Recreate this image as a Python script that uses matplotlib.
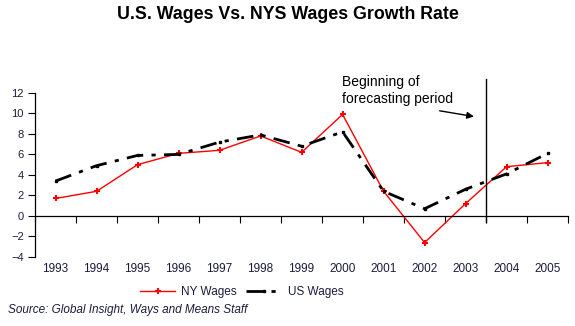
import numpy as np
import matplotlib.pyplot as plt

years = ["1993", "1994", "1995", "1996", "1997", "1998", "1999",
         "2000", "2001", "2002", "2003", "2004", "2005"]
ny_wages = [1.7, 2.4, 5.0, 6.1, 6.4, 7.8, 6.2, 9.9, 2.4, -2.6, 1.2, 4.8, 5.2]
us_wages = [3.4, 4.9, 5.9, 6.0, 7.2, 7.9, 6.8, 8.2, 2.4, 0.7, 2.6, 4.1, 6.1]
forecast_start = 10.5  # boundary between 2003 and 2004

plt.rcParams['font.family'] = ['Liberation Sans', 'DejaVu Sans']
txt_col = '#1c1c3c'

fig = plt.figure(figsize=(5.75, 3.26), dpi=100)
ax = fig.add_axes([0.061, 0.212, 0.927, 0.503])
x = np.arange(len(years))

ax.plot(x, ny_wages, color='#ff0000', lw=1.0, marker='+', ms=4, mew=1.5,
        label='NY Wages')
ax.plot(x, us_wages, color='black', lw=2.0, dashes=(6, 3, 1.5, 3),
        marker='s', ms=2, label='US Wages')

ax.set_xlim(-0.5, len(years) - 0.5)
ax.set_ylim(-4, 12)
ax.set_yticks(range(-4, 13, 2))

for s in ['top', 'right']:
    ax.spines[s].set_visible(False)
ax.spines['bottom'].set_position(('data', 0))
ax.spines['left'].set_linewidth(0.9)
ax.spines['bottom'].set_linewidth(0.9)

# boundary ticks on the zero line, year labels below the plot
ax.set_xticks(np.arange(-0.5, len(years), 1.0))
ax.tick_params(axis='x', direction='out', length=5, labelbottom=False)
ax.tick_params(axis='y', direction='out', length=5, labelsize=8,
               labelcolor=txt_col, pad=3)

sec = ax.secondary_xaxis(-0.02)
sec.set_xticks(x)
sec.set_xticklabels(years)
sec.tick_params(length=0, labelsize=8.5, labelcolor=txt_col, pad=2)
sec.spines['bottom'].set_visible(False)

ax.plot([forecast_start, forecast_start], [-0.6, 13.4], color='black',
        lw=1.0, clip_on=False)
ax.text(6.98, 13.7, "Beginning of\nforecasting period", fontsize=10,
        va='top', ha='left', linespacing=1.2, color='black')
ax.annotate("", xy=(10.27, 9.65), xytext=(9.3, 10.3),
            arrowprops=dict(arrowstyle='-|>', color='black', lw=1.0,
                            mutation_scale=10), annotation_clip=False)

fig.legend(loc='center', bbox_to_anchor=(0.42, 0.104), ncol=2, frameon=False,
           fontsize=8.5, handlelength=3, columnspacing=0.8, handletextpad=0.5,
           labelcolor=txt_col)

fig.text(0.5, 0.955, "U.S. Wages Vs. NYS Wages Growth Rate", ha='center',
         va='center', fontsize=12.8, fontweight='bold', color='black')
fig.text(0.014, 0.05, "Source: Global Insight, Ways and Means Staff",
         fontsize=8.5, style='italic', color=txt_col, va='center')

fig.savefig("out.png", dpi=100)
